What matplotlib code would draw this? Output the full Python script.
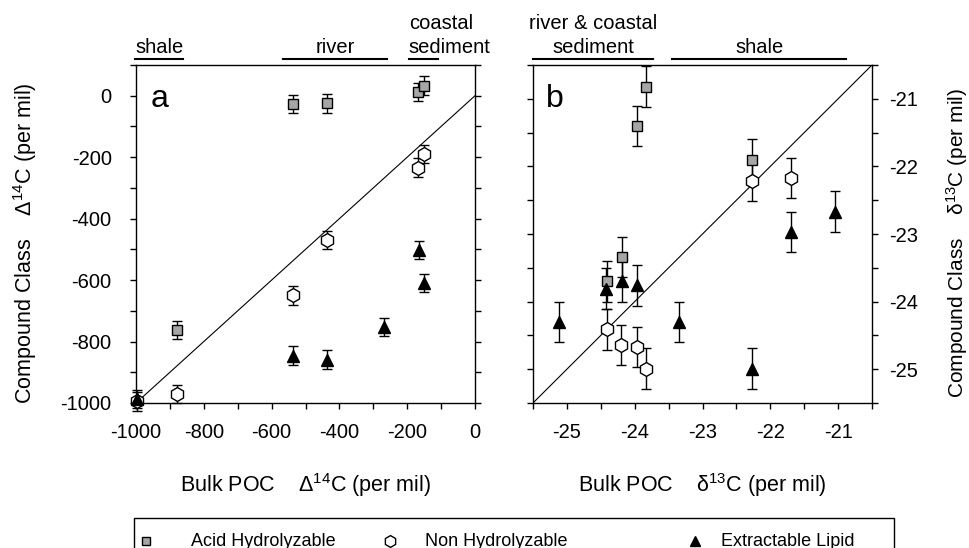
import matplotlib
matplotlib.use("Agg")
import matplotlib.pyplot as plt
from matplotlib.ticker import MultipleLocator
from matplotlib.lines import Line2D
from matplotlib.patches import Rectangle

plt.rcParams['font.family'] = ['Liberation Sans', 'DejaVu Sans']
plt.rcParams['mathtext.default'] = 'regular'
plt.rcParams['axes.unicode_minus'] = False

# panel a: radiocarbon (per mil)
acid_a_x = [-880, -536, -436, -167, -150]
acid_a_y = [-762, -27, -25, 13, 33]
non_a_x = [-996, -880, -536, -436, -167, -150]
non_a_y = [-995, -970, -650, -469, -234, -190]
lip_a_x = [-996, -536, -436, -268, -165, -150]
lip_a_y = [-987, -846, -859, -753, -502, -610]
err_a = 30

# panel b: stable carbon (per mil)
acid_b_x = [-24.41, -24.19, -23.96, -23.84, -22.27]
acid_b_y = [-23.70, -23.34, -21.40, -20.82, -21.90]
non_b_x = [-24.41, -24.20, -23.96, -23.84, -22.27, -21.69]
non_b_y = [-24.41, -24.64, -24.67, -24.99, -22.21, -22.17]
lip_b_x = [-25.12, -24.42, -24.19, -23.97, -23.35, -22.27, -21.69, -21.04]
lip_b_y = [-24.30, -23.81, -23.70, -23.76, -24.30, -24.99, -22.97, -22.67]
err_b = 0.3

labels = ["Acid Hydrolyzable", "Non Hydrolyzable", "Extractable Lipid"]
groups_a = [("shale", -1003, -861), ("river", -566, -260), ("coastal\nsediment", -195, -109)]
groups_b = [("river & coastal\nsediment", -25.5, -23.73), ("shale", -23.45, -20.88)]

sq = dict(marker='s', ms=7.5, mfc='#a6a6a6', mec='black', mew=1)
hx = dict(marker='h', ms=10, mfc='white', mec='black', mew=1)
tr = dict(marker='^', ms=9, mfc='black', mec='black', mew=1)
eb = dict(ls='none', ecolor='black', elinewidth=1, capsize=3.6, capthick=1)

fig = plt.figure(figsize=(9.69, 5.48), dpi=100)
axa = fig.add_axes([136/969, 1-403/548, 339/969, 338/548])
axb = fig.add_axes([533/969, 1-403/548, 339/969, 338/548])


def panel(ax, series, err, lim, ylim, major, minor):
    ax.plot(lim, lim, color='black', lw=0.8, zorder=1)
    for x, y, st in series:
        ax.errorbar(x, y, yerr=err, **eb, **st, zorder=3, clip_on=False)
    ax.set_xlim(lim)
    ax.set_ylim(ylim)
    for a in (ax.xaxis, ax.yaxis):
        a.set_major_locator(MultipleLocator(major))
        a.set_minor_locator(MultipleLocator(minor))
    ax.tick_params(which='both', direction='out', length=4.5, width=1,
                   labelsize=14.5, left=True, right=True, top=False)
    ax.tick_params(axis='x', pad=10)
    for s in ax.spines.values():
        s.set_linewidth(1)


panel(axa, [(acid_a_x, acid_a_y, sq), (non_a_x, non_a_y, hx), (lip_a_x, lip_a_y, tr)],
      err_a, (-1000, 0), (-1000, 100), 200, 100)
panel(axb, [(acid_b_x, acid_b_y, sq), (non_b_x, non_b_y, hx), (lip_b_x, lip_b_y, tr)],
      err_b, (-25.5, -20.5), (-25.5, -20.5), 1, 0.5)
axa.tick_params(axis='y', pad=13)
axb.tick_params(axis='y', which='both', labelleft=False, labelright=True, pad=8)

axa.set_xlabel("Bulk POC    $\\Delta^{14}$C (per mil)", fontsize=15.5, labelpad=21)
axb.set_xlabel("Bulk POC    $\\delta^{13}$C (per mil)", fontsize=15.5, labelpad=21)
fig.text(25/969, 1-243/548, "Compound Class    Δ$^{14}$C (per mil)", rotation=90,
         ha='center', va='center', fontsize=15.5)
fig.text(957/969, 1-243/548, "Compound Class    δ$^{13}$C (per mil)", rotation=90,
         ha='center', va='center', fontsize=15)

axa.text(0.07, 0.90, "a", transform=axa.transAxes, fontsize=23, ha='center', va='center')
axb.text(0.065, 0.90, "b", transform=axb.transAxes, fontsize=23, ha='center', va='center')

# group bars above each panel
for ax, groups in ((axa, groups_a), (axb, groups_b)):
    tr_ = ax.get_xaxis_transform()
    for name, x0, x1 in groups:
        ax.plot([x0, x1], [1.018, 1.018], transform=tr_, color='black', lw=1.5,
                clip_on=False)
        if name.startswith("coastal"):
            ax.text(x0, 1.024, name, transform=tr_, ha='left', va='bottom',
                    fontsize=14.5, linespacing=1.3)
        else:
            ax.text((x0 + x1) / 2, 1.024, name, transform=tr_, ha='center',
                    va='bottom', fontsize=14.5, linespacing=1.3)

# legend box along the bottom
fig.add_artist(Rectangle((134/969, -0.05), 760/969, 0.05 + (548-518)/548,
                         transform=fig.transFigure, fill=False, ec='black', lw=1))
leg_y = 1 - 541/548
for st, mx, tx, lab in ((sq, 146, 191, labels[0]), (hx, 390, 425, labels[1]),
                        (tr, 695, 721, labels[2])):
    s = dict(st)
    s['ms'] = st['ms'] * 0.85
    fig.add_artist(Line2D([mx/969], [leg_y], transform=fig.transFigure, **s))
    fig.text(tx/969, leg_y, lab, ha='left', va='center', fontsize=13)

fig.savefig("out.png", dpi=100)
